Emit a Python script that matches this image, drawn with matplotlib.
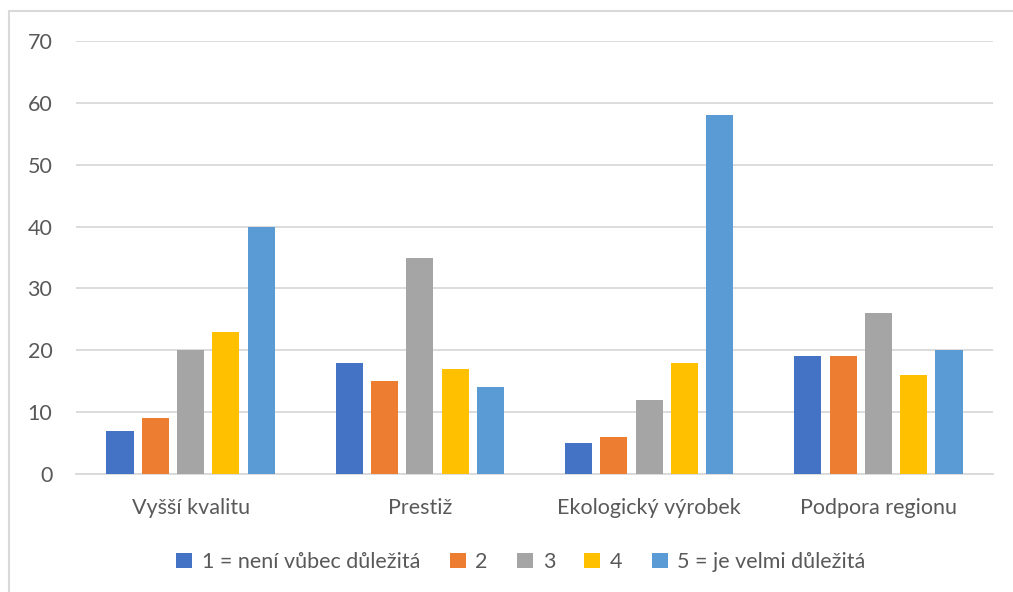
import numpy as np
import matplotlib.pyplot as plt
from matplotlib.patches import Rectangle

categories = ["Vyšší kvalitu", "Prestiž", "Ekologický výrobek", "Podpora regionu"]
series_names = ["1 = není vůbec důležitá", "2", "3", "4", "5 = je velmi důležitá"]
values_1 = [7, 18, 5, 19]
values_2 = [9, 15, 6, 19]
values_3 = [20, 35, 12, 26]
values_4 = [23, 17, 18, 16]
values_5 = [40, 14, 58, 20]
colors = ["#4472C4", "#ED7D31", "#A5A5A5", "#FFC000", "#5B9BD5"]

plt.rcParams['font.family'] = ['Lato', 'DejaVu Sans']
text_color = "#595959"

fig = plt.figure(figsize=(10.13, 5.92), dpi=100)
ax = fig.add_axes([76 / 1013, 1 - 474 / 592, 917 / 1013, 433 / 592])

# outer chart frame (only left and top visible)
fig.patches.append(Rectangle((9 / 1013, -0.1), 1.2, 1 - 11 / 592 + 0.1,
                             transform=fig.transFigure, fill=False,
                             edgecolor="#D9D9D9", linewidth=1.5))

x = np.arange(len(categories))
step = 0.154
width = 0.118
all_values = [values_1, values_2, values_3, values_4, values_5]
for i, (vals, name, c) in enumerate(zip(all_values, series_names, colors)):
    ax.bar(x + (i - 2) * step, vals, width, color=c, label=name, zorder=3)

ax.set_xlim(-0.5, len(categories) - 0.5)
ax.set_ylim(0, 70)
ax.set_yticks(range(0, 71, 10))
ax.yaxis.grid(True, color="#D9D9D9", linewidth=1.3, zorder=0)
ax.set_xticks(x)
ax.set_xticklabels(categories)
for s in ["top", "right", "left"]:
    ax.spines[s].set_visible(False)
ax.spines["bottom"].set_color("#D9D9D9")
ax.spines["bottom"].set_linewidth(1.3)
ax.tick_params(axis="both", length=0, labelsize=15.5, colors=text_color)
ax.tick_params(axis="y", pad=17)
ax.tick_params(axis="x", pad=17)

leg = fig.legend(loc="center", bbox_to_anchor=(521 / 1013, 1 - 562 / 592),
                 ncol=5, frameon=False, fontsize=15.5, handlelength=0.75,
                 handleheight=0.75, handletextpad=0.45, columnspacing=1.35)
for t in leg.get_texts():
    t.set_color(text_color)

fig.savefig("out.png", dpi=100)
